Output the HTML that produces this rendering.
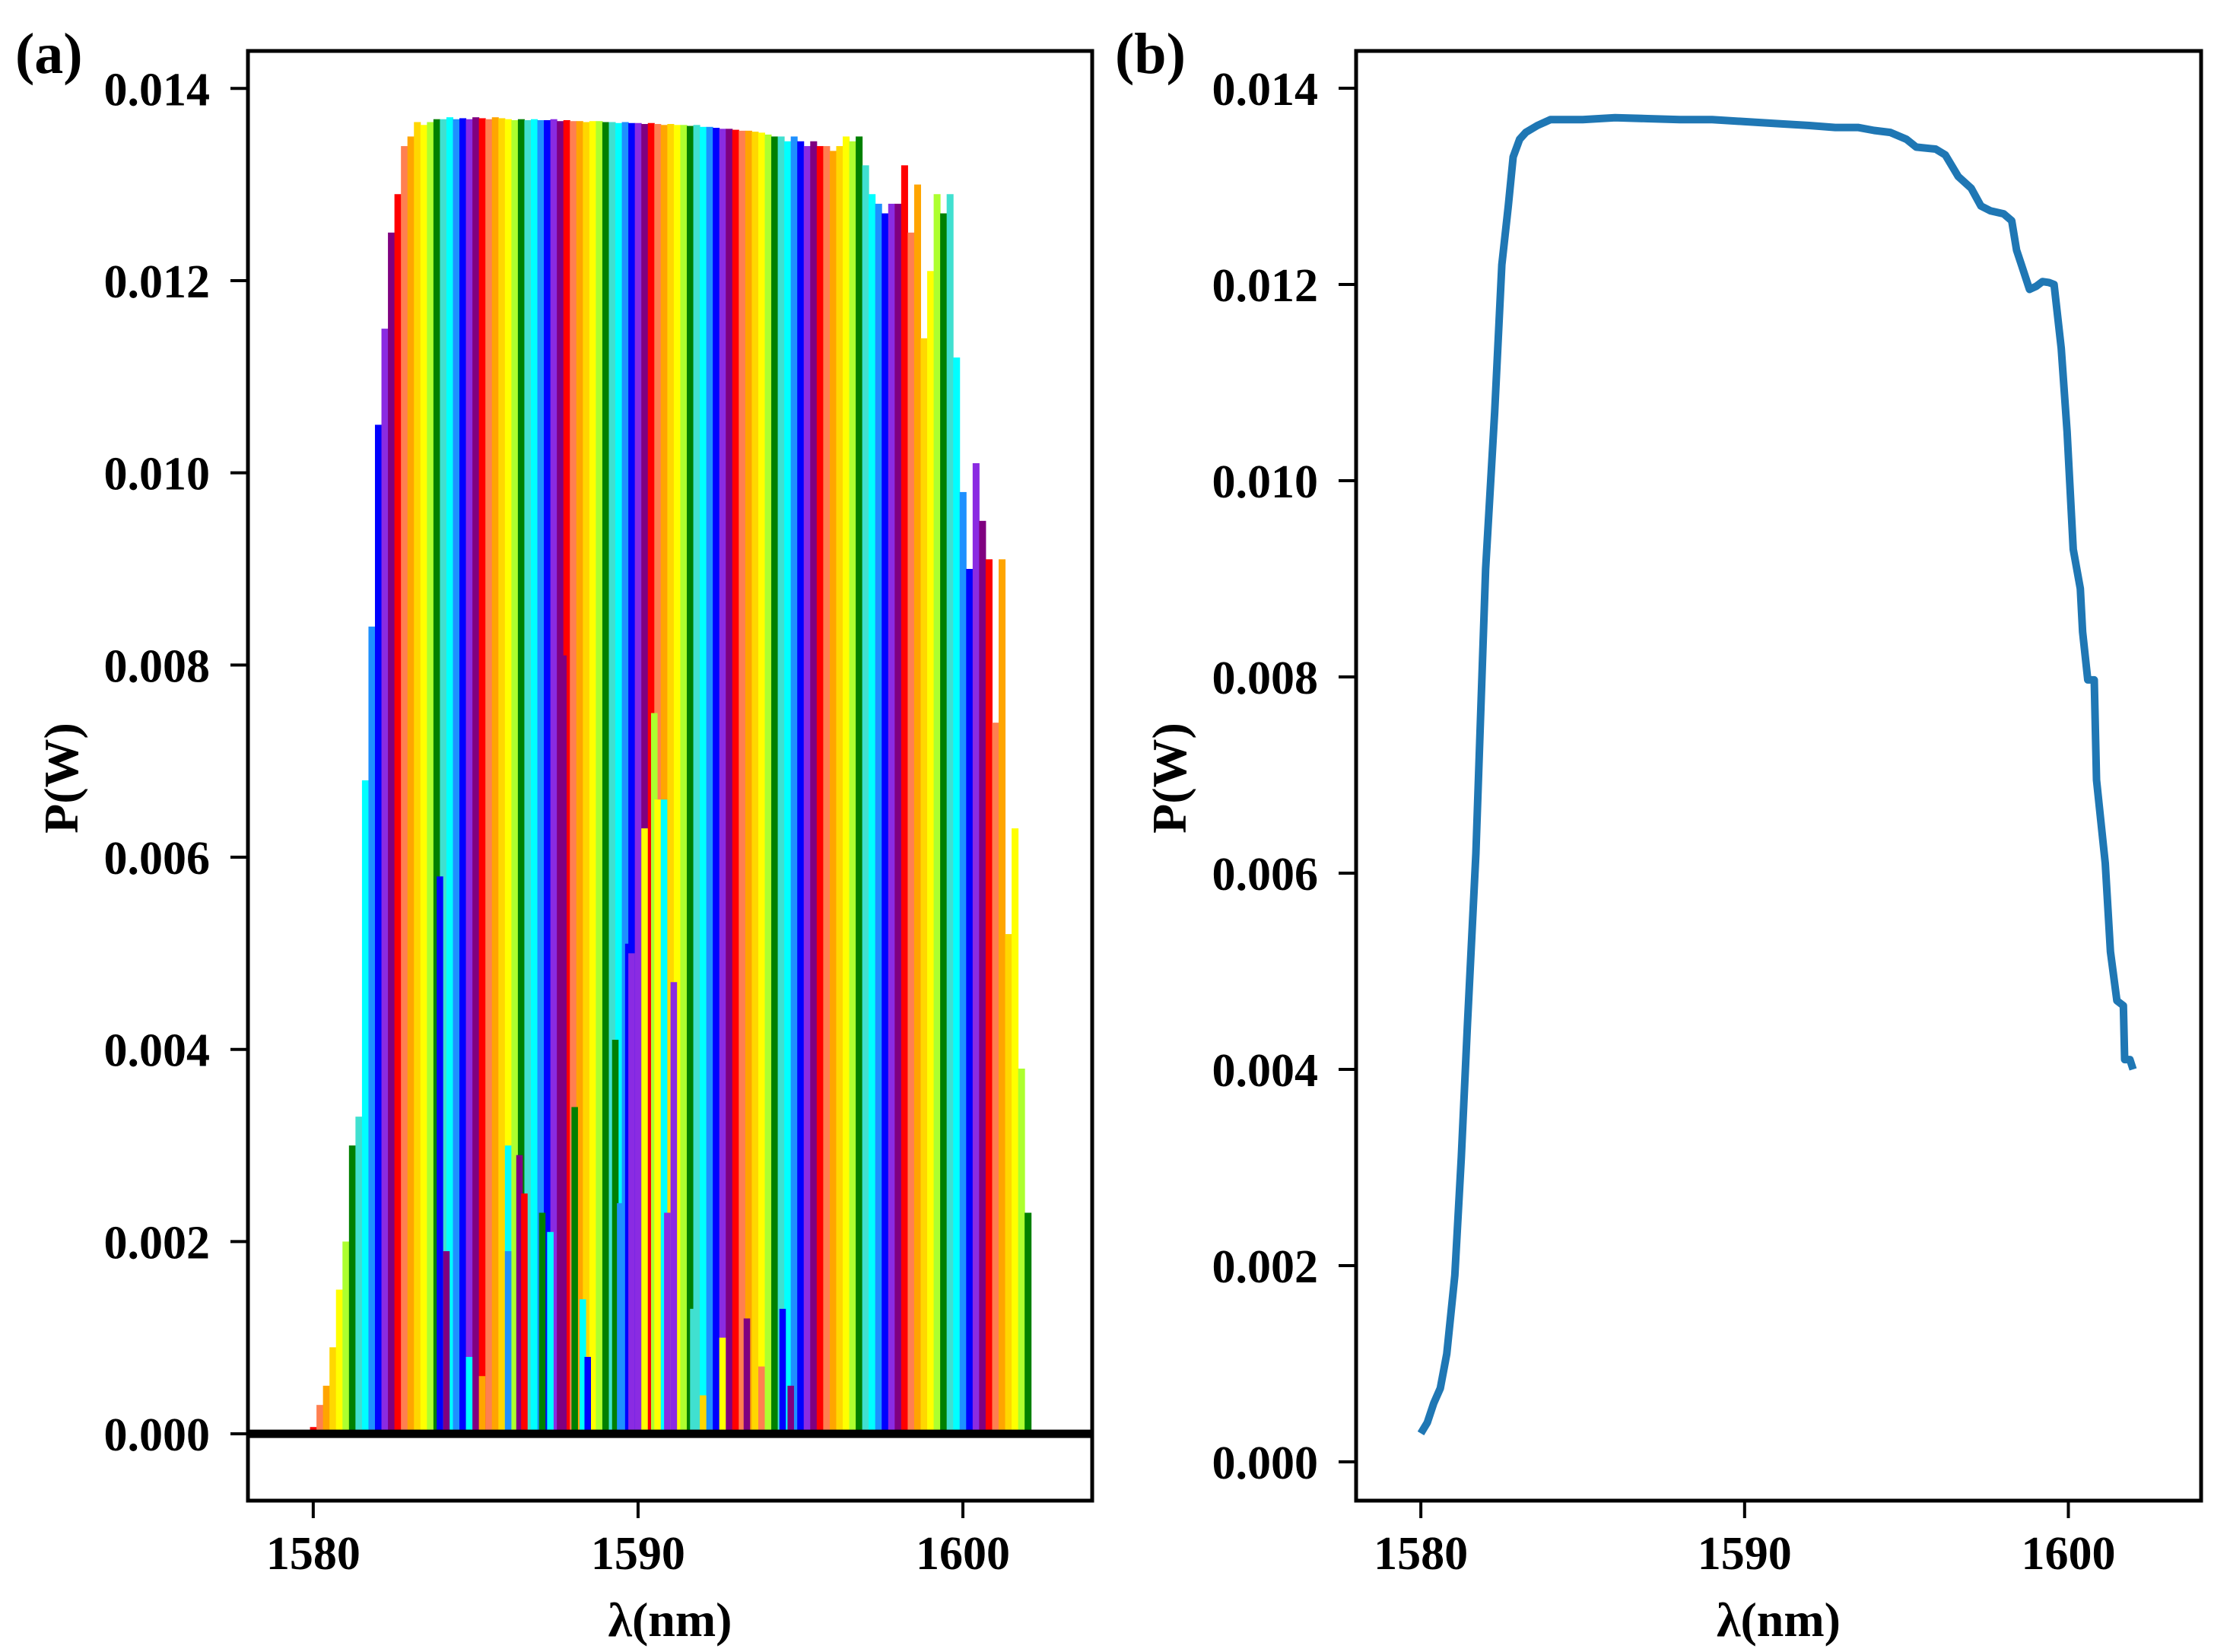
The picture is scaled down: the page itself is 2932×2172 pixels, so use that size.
<!DOCTYPE html>
<html><head><meta charset="utf-8"><style>
html,body{margin:0;padding:0;background:#fff;}
svg{display:block;}
text{font-family:"Liberation Serif",serif;font-weight:bold;fill:#000;}
</style></head><body>
<svg id="fig" width="2932" height="2172" viewBox="0 0 2932 2172" xmlns="http://www.w3.org/2000/svg">
<rect x="0" y="0" width="2932" height="2172" fill="#fff"/>
<g id="pa"></g>
<g id="pb"></g>
<text x="20" y="96" font-size="76">(a)</text>
<text x="1466" y="96" font-size="76">(b)</text>
</svg>
<script>
// ---------- data ----------
const xTicks = [1580, 1590, 1600];
const yTicks = [0, 0.002, 0.004, 0.006, 0.008, 0.010, 0.012, 0.014];
const yTickLabels = ["0.000","0.002","0.004","0.006","0.008","0.010","0.012","0.014"];
const xTickLabels = ["1580","1590","1600"];
// panel (a): spectral channels, centre wavelengths start / step, peak powers
const barStart = 1580.0;
const barStep = 0.2;
const barPower = [
0.00007,0.0003,0.0005,0.0009,0.0015,0.0020,0.0030,0.0033,0.0068,0.0084,
0.0105,0.0115,0.0125,0.0129,0.0134,0.0135,0.01365,0.01362,0.01365,0.01368,
0.01368,0.0137,0.01368,0.01369,0.01368,0.0137,0.01369,0.01368,0.0137,0.01369,
0.01368,0.01367,0.01368,0.01367,0.01368,0.01367,0.01367,0.01368,0.01366,0.01367,
0.01366,0.01366,0.01365,0.01366,0.01366,0.01365,0.01365,0.01364,0.01365,0.01364,
0.01364,0.01363,0.01364,0.01363,0.01362,0.01363,0.01362,0.01362,0.01361,0.01362,
0.0136,0.0136,0.01359,0.01358,0.01358,0.01357,0.01356,0.01356,0.01355,0.01354,
0.01352,0.0135,0.0135,0.01345,0.0135,0.01345,0.0134,0.01345,0.0134,0.0134,
0.01335,0.0134,0.0135,0.01345,0.0135,0.0132,0.0129,0.0128,0.0127,0.0128,
0.0128,0.0132,0.0125,0.0130,0.0114,0.0121,0.0129,0.0127,0.0129,0.0112,
0.0098,0.0090,0.0101,0.0095,0.0091,0.0074,0.0091,0.0052,0.0063,0.0038,0.0023];
// panel (a): weaker overlaid spectra
const overlayWl = [1583.9,1584.1,1584.8,1586.0,1586.0,1586.35,1586.5,1587.05,1587.3,1587.7,1588.05,1588.3,1588.45,1589.3,1589.45,1589.7,1589.8,1590.2,1590.5,1590.6,1590.8,1591.1,1590.9,1591.7,1592.6,1593.35,1594.45,1594.7,1585.2,1592.0,1593.8];
const overlayP  = [0.0058,0.0019,0.0008,0.0030,0.0019,0.0029,0.0025,0.0023,0.0021,0.0081,0.0034,0.0014,0.0008,0.0041,0.0024,0.0051,0.0050,0.0063,0.0075,0.0066,0.0066,0.0047,0.0023,0.0013,0.0010,0.0012,0.0013,0.0005,0.0006,0.0004,0.0007];
const overlayColorIdx = [10,12,8,8,9,12,0,6,8,12,6,8,10,6,9,10,11,4,5,4,8,11,11,7,4,12,10,12,2,3,1];
// panel (b): total power envelope
const lineWl = [1580.0,1580.2,1580.4,1580.6,1580.8,1581.05,1581.25,1581.44,1581.7,1582.0,1582.28,1582.5,1582.7,1582.85,1583.05,1583.24,1583.6,1584.0,1585.0,1586.0,1587.0,1588.0,1589.0,1590.0,1591.0,1592.0,1592.8,1593.5,1594.0,1594.5,1595.0,1595.3,1595.9,1596.2,1596.6,1597.0,1597.3,1597.6,1598.0,1598.25,1598.4,1598.55,1598.8,1599.0,1599.2,1599.4,1599.56,1599.78,1599.96,1600.15,1600.37,1600.44,1600.6,1600.8,1600.87,1601.14,1601.3,1601.5,1601.7,1601.74,1601.9,1602.0];
const lineP = [0.00029,0.0004,0.0006,0.00075,0.0011,0.0019,0.0031,0.00446,0.0062,0.0091,0.0107,0.0122,0.0128,0.0133,0.01348,0.01355,0.01362,0.01368,0.01368,0.0137,0.01369,0.01368,0.01368,0.01366,0.01364,0.01362,0.0136,0.0136,0.01357,0.01355,0.01348,0.0134,0.01338,0.01332,0.0131,0.01298,0.0128,0.01275,0.01272,0.01265,0.01235,0.0122,0.01195,0.01198,0.01203,0.01202,0.0120,0.01135,0.0105,0.0093,0.0089,0.00846,0.00797,0.00797,0.00695,0.0061,0.0052,0.0047,0.00465,0.0041,0.0041,0.0040];

// ---------- styling ----------
const palette = ["#ff0000","#ff7f50","#ffa500","#ffd700","#ffff00","#adff2f","#008000","#40e0d0","#00ffff","#1e90ff","#0000ff","#8a2be2","#800080"];
const NS = "http://www.w3.org/2000/svg";
function mk(parent, tag, attrs){
  const e = document.createElementNS(NS, tag);
  for (const k in attrs) e.setAttribute(k, attrs[k]);
  parent.appendChild(e);
  return e;
}
function axisFns(box, xmin, xmax, ymin, ymax){
  return {
    x: v => box.l + (v - xmin) / (xmax - xmin) * (box.r - box.l),
    y: v => box.b - (v - ymin) / (ymax - ymin) * (box.b - box.t)
  };
}
function drawAxes(g, box, sx, sy, prefix){
  yTicks.forEach((v, i) => {
    const yy = sy(v);
    const t = mk(g, "line", {x1: box.l - 23, x2: box.l, y1: yy, y2: yy, stroke: "#000", "stroke-width": 4});
    
    
    const tx = mk(g, "text", {x: box.l - 50, y: yy + 22, "font-size": 62, "text-anchor": "end"});
    tx.textContent = yTickLabels[i];
    
    
  });
  xTicks.forEach((v, i) => {
    const xx = sx(v);
    const t = mk(g, "line", {x1: xx, x2: xx, y1: box.b, y2: box.b + 23, stroke: "#000", "stroke-width": 4});
    
    
    const tx = mk(g, "text", {x: xx, y: box.b + 90, "font-size": 62, "text-anchor": "middle"});
    tx.textContent = xTickLabels[i];
    
    
  });
  const xl = mk(g, "text", {x: (box.l + box.r) / 2, y: box.b + 178, "font-size": 64, "text-anchor": "middle"});
  xl.textContent = "λ(nm)";
  
  
  const cx = box.l - 246, cy = 1023;
  const yl = mk(g, "text", {x: cx, y: cy, "font-size": 64, "text-anchor": "middle", transform: "rotate(-90 " + cx + " " + cy + ") translate(0 22)"});
  yl.textContent = "P(W)";
  
  
  const fr = mk(g, "rect", {x: box.l, y: box.t, width: box.r - box.l, height: box.b - box.t, fill: "none", stroke: "#000", "stroke-width": 5});
  
  
}

// ---------- panel a ----------
(function(){
  const g = document.getElementById("pa");
  const box = {l: 326, r: 1436, t: 67, b: 1973};
  const ax = axisFns(box, 1577.99, 1603.98, -0.000696, 0.01439);
  const bars = mk(g, "g", {});
  
  
  barPower.forEach((p, i) => {
    const wl = barStart + i * barStep;
    const x0 = ax.x(wl - barStep / 2), x1 = ax.x(wl + barStep / 2);
    const r = mk(bars, "rect", {x: x0, y: ax.y(p), width: x1 - x0 + 0.5, height: ax.y(0) - ax.y(p), fill: palette[i % palette.length]});
    
    
  });
  const ov = mk(g, "g", {});
  
  
  overlayWl.forEach((wl, i) => {
    const p = overlayP[i];
    const x0 = ax.x(wl - 0.1), x1 = ax.x(wl + 0.1);
    const r = mk(ov, "rect", {x: x0, y: ax.y(p), width: x1 - x0, height: ax.y(0) - ax.y(p), fill: palette[overlayColorIdx[i]]});
    
    
  });
  const z = mk(g, "line", {x1: box.l, x2: box.r, y1: ax.y(0), y2: ax.y(0), stroke: "#000", "stroke-width": 11});
  
  
  drawAxes(g, box, ax.x, ax.y, "panel-a");
})();

// ---------- panel b ----------
(function(){
  const g = document.getElementById("pb");
  const box = {l: 1783, r: 2894, t: 67, b: 1973};
  const ax = axisFns(box, 1578.0, 1604.1, -0.000395, 0.01438);
  const d = lineWl.map((w, i) => (i ? "L" : "M") + ax.x(w).toFixed(1) + "," + ax.y(lineP[i]).toFixed(1)).join(" ");
  const pl = mk(g, "path", {d: d, fill: "none", stroke: "#1f77b4", "stroke-width": 10, "stroke-linejoin": "round"});
  
  
  drawAxes(g, box, ax.x, ax.y, "panel-b");
})();
</script>
</body></html>
